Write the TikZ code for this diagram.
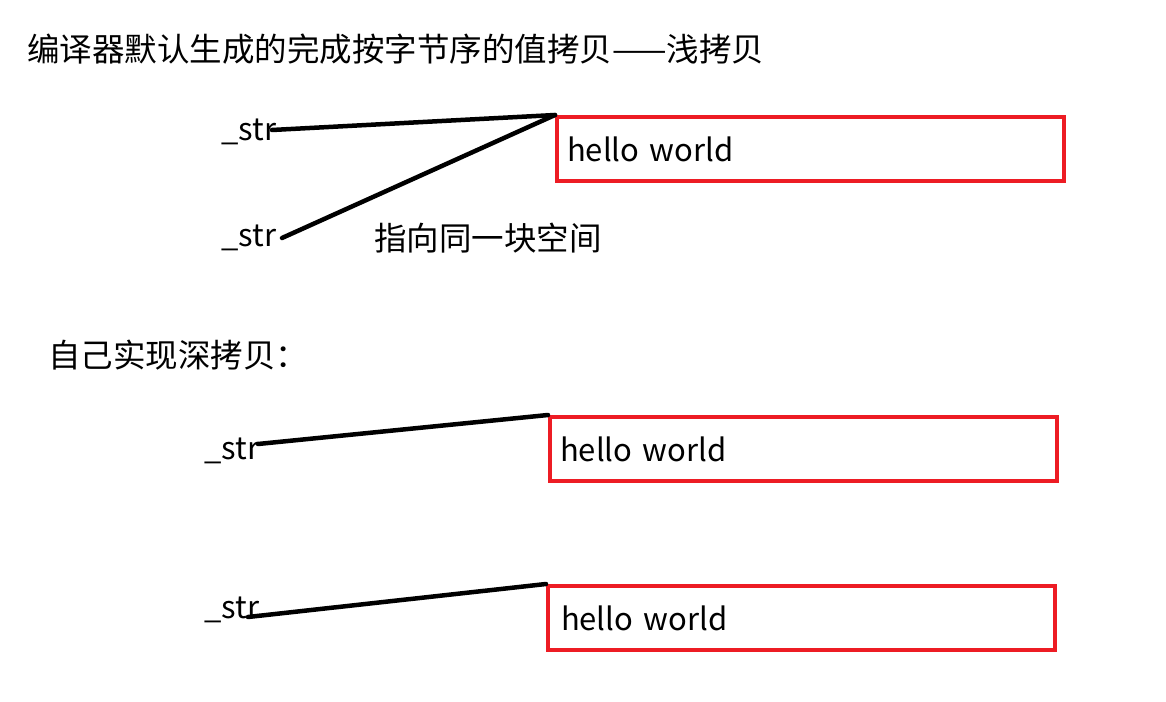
\documentclass[tikz,border=0pt]{standalone}
\usepackage{fontspec}
\setmainfont{Noto Sans CJK SC}
\definecolor{boxred}{RGB}{237,28,36}
\begin{document}
\begin{tikzpicture}[x=1pt,y=-1pt,
  lbl/.style={anchor=west,inner sep=0pt,font=\fontsize{31}{36}\selectfont},
  cjk/.style={anchor=west,inner sep=0pt,font=\fontsize{32.5}{38}\selectfont},
  memo/.style={draw=boxred,line width=4pt,anchor=north west,minimum height=64pt,
    text width=487pt,inner xsep=10pt,align=left,font=\fontsize{31}{36}\selectfont},
  ptr/.style={line width=4.5pt,line cap=round,black}]
\useasboundingbox (0,0) rectangle (1166,701);
\node[cjk] (title) at (27,49) {编译器默认生成的完成按字节序的值拷贝——浅拷贝};
\node[lbl] (s1) at (221,132) {\_str};
\node[lbl] (s2) at (221,238) {\_str};
\node[cjk] (same) at (374,238) {指向同一块空间};
\node[memo] (b1) at (555,115) {hello world};
\node[cjk] (self) at (48,355) {自己实现深拷贝：};
\node[lbl] (s3) at (204,451) {\_str};
\node[memo] (b2) at (548,415) {hello world};
\node[lbl] (s4) at (204,610) {\_str};
\node[memo,inner xsep=13pt,text width=481pt] (b3) at (546,584) {hello world};
\coordinate (p1) at (272,130);
\coordinate (p2) at (282,238);
\coordinate (p3) at (258,444);
\coordinate (p4) at (248,617);
\draw[ptr] (p1) -- (b1.north west);
\draw[ptr] (p2) -- (b1.north west);
\draw[ptr] (p3) -- (b2.north west);
\draw[ptr] (p4) -- (b3.north west);
\end{tikzpicture}
\end{document}
